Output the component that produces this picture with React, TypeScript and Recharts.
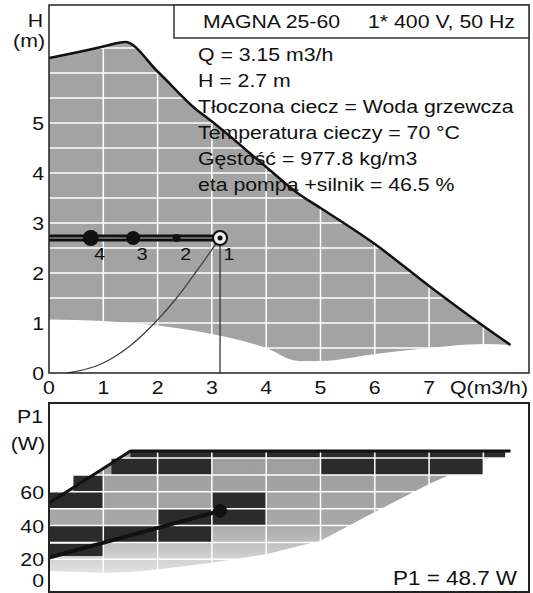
import React from "react";
import {
  ComposedChart,
  Area,
  Line,
  Scatter,
  XAxis,
  YAxis,
  ReferenceLine,
  ReferenceArea,
} from "recharts";

const FONT = '"Liberation Sans", Arial, sans-serif';

// H(Q) chart
const qTicks = [0, 1, 2, 3, 4, 5, 6, 7];
const hTicks = [0, 1, 2, 3, 4, 5];
const qGrid = [1, 2, 3, 4, 5, 6, 7, 8];
const hGrid = [0.5, 1, 1.5, 2, 2.5, 3, 3.5, 4, 4.5, 5, 5.5, 6, 6.5, 7];

const bandQ = [0, 0.5, 1, 1.4, 2, 2.7, 3, 4, 4.6, 5, 6, 7, 8, 8.5];
const hMax = [6.3, 6.41, 6.53, 6.62, 6.03, 5.28, 5.03, 4.12, 3.58, 3.3, 2.58, 1.74, 0.94, 0.56];
const hMin = [1.07, 1.06, 1.04, 1.01, 0.95, 0.84, 0.78, 0.5, 0.24, 0.24, 0.38, 0.5, 0.58, 0.56];

const systemQ = [0.33, 0.94, 1.49, 1.98, 2.35, 2.72, 3.15];
const systemH = [0, 0.17, 0.54, 1.04, 1.5, 2.04, 2.7];

const dutyQ = 3.15;
const dutyH = 2.7;
const markerQ = [0.77, 1.55, 2.35, 3.15];
const markerLabel = ["4", "3", "2", "1"];
const markerR = [8, 7, 4, 6];

// P1(Q) chart
const pTicks = [0, 20, 40, 60];
const pGrid = [10, 20, 30, 40, 50, 60, 70, 80];
const pBandQ = [0, 1, 1.5, 2, 3, 4, 5, 6, 7, 8, 8.5];
const pMax = [53.3, 73.8, 84.1, 84.1, 84.1, 84.1, 84.1, 84.1, 84.1, 84.1, 84.1];
const pMin = [13, 12, 12.5, 14, 18, 23, 31, 48, 64.6, 79, 84.1];
const dutyP0 = 21;
const dutyP = 48.7;
// [q0, q1, p0, p1]
const darkCells = [
  [0.45, 1, 60, 70],
  [0, 1, 50, 60],
  [0, 1, 30, 40],
  [0, 1, 22, 29],
  [1.15, 2, 70, 80],
  [1, 2, 30, 40],
  [2, 3, 70, 80],
  [2, 3, 40, 50],
  [2, 3, 30, 40],
  [3, 4, 50, 60],
  [3, 4, 40, 50],
  [5, 8, 70, 80],
  [1.5, 8.4, 80, 84.1],
];

const infoLines = [
  "Q = 3.15 m3/h",
  "H = 2.7 m",
  "Tłoczona ciecz = Woda grzewcza",
  "Temperatura cieczy = 70 °C",
  "Gęstość = 977.8 kg/m3",
  "eta pompa +silnik = 46.5 %",
];

const hBand = bandQ.map((q, i) => ({ q, range: [hMin[i], hMax[i]], max: hMax[i] }));
const systemData = systemQ.map((q, i) => ({ q, h: systemH[i] }));
const dutyLine = [
  { q: 0, h: dutyH },
  { q: dutyQ, h: dutyH },
];
const markers = markerQ.map((q, i) => ({ q, h: dutyH, r: markerR[i], label: markerLabel[i] }));
const pBand = pBandQ.map((q, i) => ({ q, range: [pMin[i], pMax[i]], max: pMax[i] }));
const pDuty = [
  { q: 0, p: dutyP0 },
  { q: dutyQ, p: dutyP },
];
const pPoint = [{ q: dutyQ, p: dutyP }];

const SText = ({ x, y, anchor = "start", size = 18.5, children }: any) => (
  <text
    transform={`translate(${x},${y}) scale(1.15,1)`}
    textAnchor={anchor}
    fontSize={size}
    fontFamily={FONT}
    fill="#111"
  >
    {children}
  </text>
);

const QTick = (props: any) => (
  <SText x={props.x} y={394} anchor="middle">
    {props.payload.value}
  </SText>
);

const YTick = (props: any) => {
  const v = props.payload.value;
  const y = props.y + 7 - (v === 0 && props.bottom ? 13 : 0);
  return (
    <SText x={44} y={y} anchor="end">
      {v}
    </SText>
  );
};

const renderMarker = (props: any) => {
  const { cx, cy, payload } = props;
  const last = payload.label === "1";
  return (
    <g>
      {last ? (
        <>
          <circle cx={cx} cy={cy} r={7} fill="#eee" stroke="#111" strokeWidth={2} />
          <circle cx={cx} cy={cy} r={2.5} fill="#111" />
        </>
      ) : (
        <circle cx={cx} cy={cy} r={payload.r} fill="#111" />
      )}
      <SText x={cx + 9} y={cy + 22} anchor="middle" size={17}>
        {payload.label}
      </SText>
    </g>
  );
};

const renderPDot = (props: any) => (
  <circle cx={props.cx} cy={props.cy} r={7} fill="#111" />
);

const HeadChart = () => (
  <ComposedChart width={533} height={401} margin={{ top: 5, right: 4, bottom: 0, left: 0 }}>
    <XAxis
      type="number"
      dataKey="q"
      domain={[0, 8.84]}
      ticks={qTicks}
      tick={<QTick />}
      tickLine={false}
      axisLine={false}
      interval={0}
      height={28}
      allowDataOverflow
    />
    <YAxis
      type="number"
      domain={[0, 7.36]}
      ticks={hTicks}
      tick={<YTick />}
      tickLine={false}
      axisLine={false}
      tickSize={0}
      interval={0}
      width={49}
      allowDataOverflow
    />
    <Area
      data={hBand}
      dataKey="range"
      type="monotone"
      fill="#a3a3a3"
      fillOpacity={1}
      stroke="none"
      isAnimationActive={false}
    />
    {qGrid.map((q) => (
      <ReferenceLine key={"qx" + q} x={q} stroke="#fff" strokeWidth={1.5} zIndex={150} />
    ))}
    {hGrid.map((h) => (
      <ReferenceLine key={"hy" + h} y={h} stroke="#fff" strokeWidth={1.5} zIndex={150} />
    ))}
    <Line
      data={hBand}
      dataKey="max"
      type="monotone"
      stroke="#111"
      strokeWidth={2.5}
      dot={false}
      isAnimationActive={false}
    />
    <Line
      data={systemData}
      dataKey="h"
      type="monotone"
      stroke="#444"
      strokeWidth={1.3}
      dot={false}
      isAnimationActive={false}
    />
    <ReferenceLine
      segment={[
        { x: dutyQ, y: 0 },
        { x: dutyQ, y: dutyH },
      ]}
      stroke="#333"
      strokeWidth={1.3}
      zIndex={450}
    />
    <Line
      data={dutyLine}
      dataKey="h"
      stroke="#111"
      strokeWidth={7}
      dot={false}
      isAnimationActive={false}
    />
    <Line
      data={dutyLine}
      dataKey="h"
      stroke="#bbb"
      strokeWidth={1}
      dot={false}
      isAnimationActive={false}
    />
    <Scatter data={markers} dataKey="h" shape={renderMarker} isAnimationActive={false} />
  </ComposedChart>
);

const PowerChart = () => (
  <ComposedChart width={533} height={198} margin={{ top: 8, right: 4, bottom: 0, left: 0 }}>
    <defs>
      <linearGradient id="pFade" x1="0" y1="0" x2="0" y2="1">
        <stop offset="0" stopColor="#9c9c9c" />
        <stop offset="0.6" stopColor="#a8a8a8" />
        <stop offset="1" stopColor="#e2e2e2" />
      </linearGradient>
    </defs>
    <XAxis type="number" dataKey="q" domain={[0, 8.84]} hide height={0} allowDataOverflow />
    <YAxis
      type="number"
      domain={[0, 112.6]}
      ticks={pTicks}
      tick={<YTick bottom />}
      tickLine={false}
      axisLine={false}
      tickSize={0}
      interval={0}
      width={49}
      allowDataOverflow
    />
    <Area
      data={pBand}
      dataKey="range"
      type="linear"
      fill="url(#pFade)"
      fillOpacity={1}
      stroke="none"
      isAnimationActive={false}
    />
    {darkCells.map((c, i) => (
      <ReferenceArea
        key={"cell" + i}
        x1={c[0]}
        x2={c[1]}
        y1={c[2]}
        y2={c[3]}
        fill="#2b2b2b"
        fillOpacity={1}
        stroke="none"
        zIndex={120}
      />
    ))}
    {qGrid.map((q) => (
      <ReferenceLine key={"px" + q} x={q} stroke="#fff" strokeWidth={1.5} zIndex={150} />
    ))}
    {pGrid.map((p) => (
      <ReferenceLine key={"py" + p} y={p} stroke="#fff" strokeWidth={1.5} zIndex={150} />
    ))}
    <Line
      data={pBand}
      dataKey="max"
      type="linear"
      stroke="#111"
      strokeWidth={3}
      dot={false}
      isAnimationActive={false}
    />
    <Line
      data={pDuty}
      dataKey="p"
      type="linear"
      stroke="#111"
      strokeWidth={4}
      dot={false}
      isAnimationActive={false}
    />
    <Scatter data={pPoint} dataKey="p" shape={renderPDot} isAnimationActive={false} />
  </ComposedChart>
);

export default function App() {
  return (
    <div
      style={{
        position: "absolute",
        left: 0,
        top: 0,
        width: 533,
        height: 593,
        background: "#fff",
        overflow: "hidden",
      }}
    >
      <div style={{ position: "absolute", left: 0, top: 0 }}>
        <HeadChart />
      </div>
      <div style={{ position: "absolute", left: 0, top: 395 }}>
        <PowerChart />
      </div>
      <svg
        width={533}
        height={593}
        style={{ position: "absolute", left: 0, top: 0, pointerEvents: "none" }}
      >
        <rect x={49} y={5} width={480} height={368} fill="none" stroke="#222" strokeWidth={1.5} />
        <rect x={49} y={403} width={480} height={189} fill="none" stroke="#222" strokeWidth={2} />
        <rect x={174} y={5} width={355} height={33} fill="#fff" stroke="#333" strokeWidth={1.5} />
        <SText x={203} y={28}>MAGNA 25-60</SText>
        <SText x={368} y={28}>1* 400 V, 50 Hz</SText>
        {infoLines.map((t, i) => (
          <SText key={t} x={198} y={61 + i * 26}>
            {t}
          </SText>
        ))}
        <SText x={43} y={27} anchor="end">H</SText>
        <SText x={45} y={47} anchor="end">(m)</SText>
        <SText x={528} y={394} anchor="end">Q(m3/h)</SText>
        <SText x={43} y={423} anchor="end">P1</SText>
        <SText x={45} y={450} anchor="end">(W)</SText>
        <SText x={517} y={585} anchor="end" size={19.5}>P1 = 48.7 W</SText>
      </svg>
    </div>
  );
}
